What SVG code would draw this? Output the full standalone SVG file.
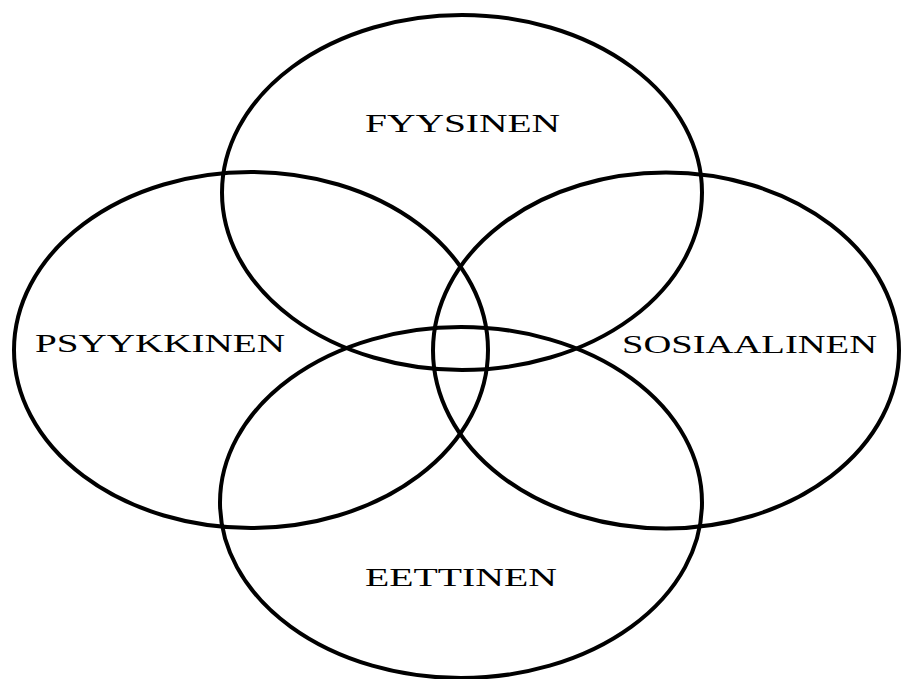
<svg xmlns="http://www.w3.org/2000/svg" width="902" height="679" viewBox="0 0 902 679">
<style>
.c{fill:none;stroke:#000;stroke-width:4}
.t{font-family:"Liberation Serif","Times New Roman",serif;font-size:26px;fill:#000;text-anchor:middle}
</style>
<rect width="902" height="679" fill="#fff"/>
<g id="fyysinen"><ellipse class="c" cx="462" cy="192.5" rx="240" ry="177.5"/><text class="t" transform="translate(462.5 132) scale(1.5 1)" textLength="130" lengthAdjust="spacingAndGlyphs">FYYSINEN</text></g>
<g id="psyykkinen"><ellipse class="c" cx="251" cy="350" rx="237" ry="178"/><text class="t" transform="translate(160 352) scale(1.5 1)" textLength="166.7" lengthAdjust="spacingAndGlyphs">PSYYKKINEN</text></g>
<g id="sosiaalinen"><ellipse class="c" cx="666" cy="350.5" rx="233" ry="178"/><text class="t" transform="translate(749.5 353) scale(1.5 1)" textLength="170" lengthAdjust="spacingAndGlyphs">SOSIAALINEN</text></g>
<g id="eettinen"><ellipse class="c" cx="461" cy="502.5" rx="241" ry="175.5"/><text class="t" transform="translate(461 586) scale(1.5 1)" textLength="128" lengthAdjust="spacingAndGlyphs">EETTINEN</text></g>
<g id="connectors"/>
</svg>
